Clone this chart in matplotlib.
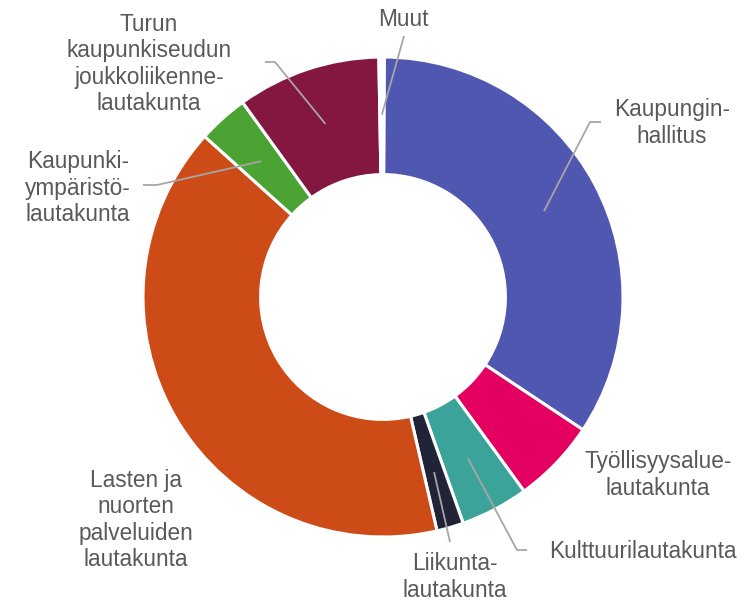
import matplotlib
matplotlib.use("Agg")
import matplotlib.pyplot as plt
import numpy as np

# Data (share of total, %) - clockwise from the top
categories = ["Kaupunginhallitus", "Työllisyysaluelautakunta", "Kulttuurilautakunta",
              "Liikuntalautakunta", "Lasten ja nuorten palveluiden lautakunta",
              "Kaupunkiympäristölautakunta", "Turun kaupunkiseudun joukkoliikennelautakunta",
              "Muut"]
values = [34.25, 5.67, 4.58, 1.81, 40.28, 3.39, 9.67, 0.36]
labels = ["Kaupungin-\nhallitus", "Työllisyysalue-\nlautakunta", "Kulttuurilautakunta",
          "Liikunta-\nlautakunta", "Lasten ja\nnuorten\npalveluiden\nlautakunta",
          "Kaupunki-\nympäristö-\nlautakunta", "Turun\nkaupunkiseudun\njoukkoliikenne-\nlautakunta",
          "Muut"]
colors = ["#4F57B0", "#E30060", "#3CA39A", "#212437", "#CD4B16", "#4BA334", "#84173F", "#FFFFFF"]

W, H = 749, 601
CX, CY, R = 383, 297, 240  # pixel layout of the donut

fig = plt.figure(figsize=(W / 100, H / 100), dpi=100)
ax = fig.add_axes([(CX - R) / W, (H - CY - R) / H, 2 * R / W, 2 * R / H])

start = 90 - 0.3
wedges, _ = ax.pie(values, colors=colors, startangle=start, counterclock=False,
                   radius=1.0, wedgeprops=dict(width=0.49, edgecolor="white", linewidth=2.2))
ax.set_xlim(-1, 1)
ax.set_ylim(-1, 1)
ax.set_aspect("equal")
ax.axis("off")


def px(x, y):
    return ((x - CX) / R, (CY - y) / R)


# label text centres (pixel layout) and leader elbows/ends
text_pos = [(672, 123), (658, 475), (643, 552), (455, 577), (136, 520), (78, 188), (149, 64), (403, 20)]
leaders = {
    0: [(590, 122), (601, 122)],
    2: [(517, 550), (527, 550)],
    3: [(450, 542)],
    5: [(157, 185), (143, 185)],
    6: [(275, 62), (265, 62)],
    7: [(404, 36)],
}

total = sum(values)
cum = 0.0
for i, (v, lab) in enumerate(zip(values, labels)):
    mid_cw = 0.3 + (cum + v / 2) / total * 360.0
    cum += v
    ang = np.deg2rad(90 - mid_cw)
    if i in leaders:
        pts = [(0.76 * np.cos(ang), 0.76 * np.sin(ang))] + [px(*p) for p in leaders[i]]
        xs, ys = zip(*pts)
        ax.plot(xs, ys, color="#A6A6A6", lw=1.3, clip_on=False, solid_capstyle="butt")
    tx, ty = px(*text_pos[i])
    ax.text(tx, ty, lab, ha="center", va="center", fontsize=16.3, color="#595959",
            family="Liberation Sans", linespacing=1.2, clip_on=False)

fig.savefig("out.png", dpi=100, facecolor="white")
